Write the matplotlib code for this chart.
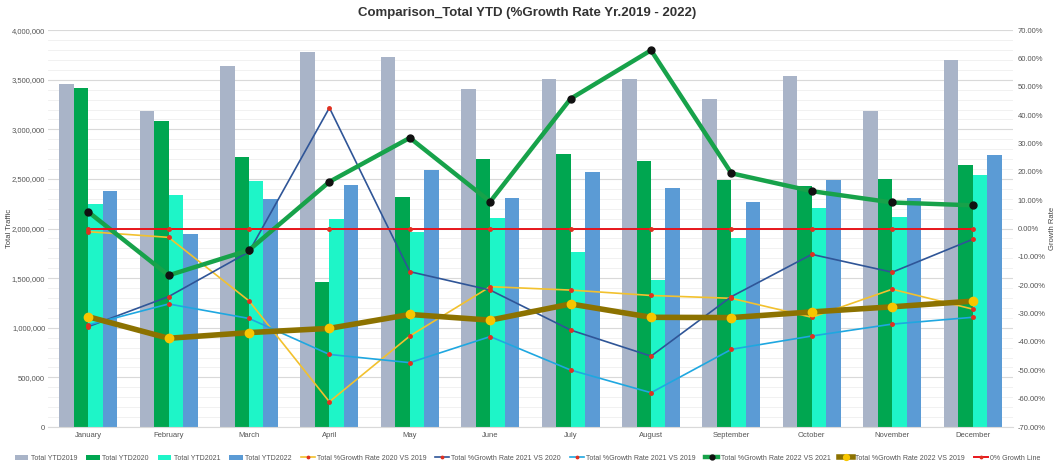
import numpy as np
import matplotlib
matplotlib.use("Agg")
import matplotlib.pyplot as plt
from matplotlib.ticker import FuncFormatter, MultipleLocator

plt.rcParams['font.family'] = ['Liberation Sans', 'DejaVu Sans']

months = ['January', 'February', 'March', 'April', 'May', 'June', 'July',
          'August', 'September', 'October', 'November', 'December']

ytd2019 = [3455000, 3185000, 3640000, 3775000, 3727000, 3404000,
           3510000, 3510000, 3310000, 3538000, 3185000, 3700000]
ytd2020 = [3420000, 3085000, 2720000, 1465000, 2315000, 2700000,
           2749000, 2685000, 2487000, 2426000, 2500000, 2638000]
ytd2021 = [2248000, 2340000, 2483000, 2097000, 1963000, 2104000,
           1760000, 1478000, 1902000, 2205000, 2114000, 2540000]
ytd2022 = [2380000, 1945000, 2300000, 2437000, 2590000, 2305000,
           2567000, 2406000, 2268000, 2487000, 2305000, 2745000]

g20v19 = [-1.1, -3.1, -25.5, -61.1, -37.9, -20.5, -21.7, -23.6, -24.6, -31.3, -21.4, -28.4]
g21v20 = [-34.6, -24.0, -8.2, 42.6, -15.2, -21.7, -35.8, -45.0, -24.0, -9.1, -15.4, -3.8]
g21v19 = [-34.0, -26.6, -31.7, -44.4, -47.3, -38.1, -49.9, -57.9, -42.6, -37.9, -33.7, -31.3]
g22v21 = [5.9, -16.5, -7.6, 16.5, 32.0, 9.5, 45.8, 62.9, 19.5, 13.2, 9.2, 8.2]
g22v19 = [-31.1, -38.7, -36.7, -35.2, -30.3, -32.3, -26.6, -31.3, -31.4, -29.4, -27.6, -25.6]
zero_line = [0] * 12

x = np.arange(len(months))
w = 0.18

fig = plt.figure(figsize=(10.55, 4.68), dpi=100)
ax = fig.add_axes([0.0455, 0.0876, 0.9145, 0.848])

ax.bar(x - 1.5 * w, ytd2019, w, color='#A9B4C8', label='Total YTD2019', zorder=2)
ax.bar(x - 0.5 * w, ytd2020, w, color='#00A650', label='Total YTD2020', zorder=2)
ax.bar(x + 0.5 * w, ytd2021, w, color='#1EF5C8', label='Total YTD2021', zorder=2)
ax.bar(x + 1.5 * w, ytd2022, w, color='#5B9BD5', label='Total YTD2022', zorder=2)

ax.set_ylim(0, 4000000)
ax.set_xlim(-0.5, 11.5)
ax.yaxis.set_major_locator(MultipleLocator(500000))
ax.yaxis.set_minor_locator(MultipleLocator(100000))
ax.yaxis.set_major_formatter(FuncFormatter(lambda v, p: f'{int(v):,}'))
ax.grid(axis='y', which='major', color='#D9D9D9', lw=0.8, zorder=0)
ax.grid(axis='y', which='minor', color='#EFEFEF', lw=0.6, zorder=0)
ax.set_axisbelow(True)
ax.set_xticks(x)
ax.set_xticklabels(months)
ax.tick_params(axis='both', which='both', labelsize=5.5, colors='#555555', length=0)
ax.tick_params(axis='y', pad=2)
ax.set_ylabel('Total Traffic', fontsize=5.5, color='#444444')
ax.yaxis.set_label_coords(-0.036, 0.5)
for s in ['top', 'right', 'left']:
    ax.spines[s].set_visible(False)
ax.spines['bottom'].set_color('#D9D9D9')

ax2 = ax.twinx()
ax2.set_ylim(-70, 70)
ax2.yaxis.set_major_locator(MultipleLocator(10))
ax2.yaxis.set_major_formatter(FuncFormatter(lambda v, p: f'{v:.2f}%'))
ax2.tick_params(axis='y', labelsize=5.5, colors='#555555', length=0)
ax2.set_ylabel('Growth Rate', fontsize=5.5, color='#444444')
ax2.yaxis.set_label_coords(1.038, 0.5)
for s in ax2.spines.values():
    s.set_visible(False)

mk = dict(marker='o', markersize=2.5, markerfacecolor='#E03020', markeredgecolor='#E03020')
ax2.plot(x, g20v19, color='#F2C12E', lw=1.2, label='Total %Growth Rate 2020 VS 2019', **mk)
ax2.plot(x, g21v20, color='#2F5597', lw=1.2, label='Total %Growth Rate 2021 VS 2020', **mk)
ax2.plot(x, g21v19, color='#1FA7E0', lw=1.2, label='Total %Growth Rate 2021 VS 2019', **mk)
ax2.plot(x, g22v21, color='#17A24A', lw=3.2, marker='o', markersize=5,
         markerfacecolor='#111111', markeredgecolor='#111111',
         label='Total %Growth Rate 2022 VS 2021')
ax2.plot(x, g22v19, color='#8C7200', lw=4, marker='o', markersize=6,
         markerfacecolor='#F7C600', markeredgecolor='#F7C600',
         label='Total %Growth Rate 2022 VS 2019')
ax2.plot(x, zero_line, color='#E8151B', lw=1.4, label='0% Growth Line', **mk)

fig.suptitle('Comparison_Total YTD (%Growth Rate Yr.2019 - 2022)', y=0.985,
             fontsize=9.5, fontweight='bold', color='#333333')

h1, l1 = ax.get_legend_handles_labels()
h2, l2 = ax2.get_legend_handles_labels()
fig.legend(h1 + h2, l1 + l2, loc='lower center', bbox_to_anchor=(0.5, 0.0),
           ncol=10, fontsize=5, frameon=False, handlelength=2.0,
           columnspacing=1.3, handletextpad=0.3, labelcolor='#555555',
           markerscale=0.7)

fig.savefig('out.png', dpi=100, facecolor='white')
